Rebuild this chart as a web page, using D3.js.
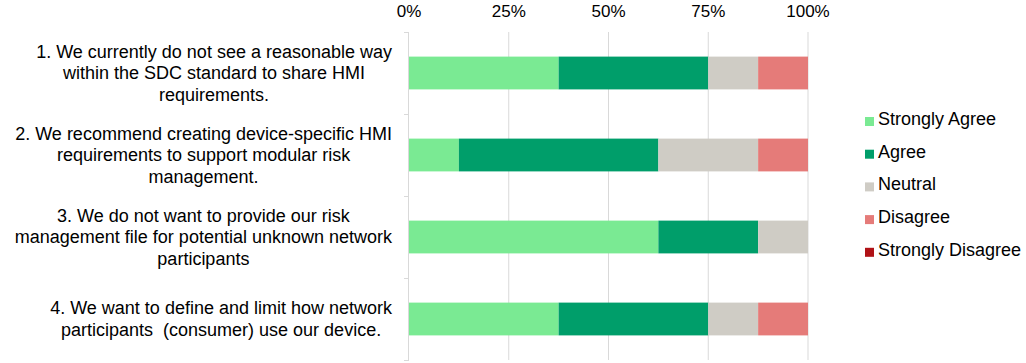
<!DOCTYPE html>
<html>
<head>
<meta charset="utf-8">
<script src="https://cdn.jsdelivr.net/npm/d3@7"></script>
<style>
  body { margin: 0; background: #fff; }
  svg { display: block; font-family: "Liberation Sans", Arial, sans-serif; }
</style>
</head>
<body>
<svg id="chart" width="1026" height="363"></svg>
<script>
const questions = [
  ["1. We currently do not see a reasonable way", "within the SDC standard to share HMI", "requirements."],
  ["2. We recommend creating device-specific HMI", "requirements to support modular risk", "management."],
  ["3. We do not want to provide our risk", "management file for potential unknown network", "participants"],
  ["4. We want to define and limit how network", "participants  (consumer) use our device."]
];
const answers = ["Strongly Agree", "Agree", "Neutral", "Disagree", "Strongly Disagree"];
const colors = ["#7aea93", "#009e6a", "#cfccc5", "#e57b79", "#b01116"];
const strongAgree = [37.5, 12.5, 62.5, 37.5];
const agree = [37.5, 50, 25, 37.5];
const neutral = [12.5, 25, 12.5, 12.5];
const disagree = [12.5, 12.5, 0, 12.5];
const strongDisagree = [0, 0, 0, 0];
const xTicks = [0, 25, 50, 75, 100];

const series = [strongAgree, agree, neutral, disagree, strongDisagree];
const rows = questions.map((q, i) => {
  const r = { id: i };
  answers.forEach((a, j) => r[a] = series[j][i]);
  return r;
});

const svg = d3.select("#chart");
const x = d3.scaleLinear().domain([0, 100]).range([409, 808]);
const y = d3.scaleBand().domain(d3.range(questions.length)).range([32, 360]).paddingInner(0.6).paddingOuter(0.3);
const band = d3.scaleBand().domain(d3.range(questions.length)).range([32, 360]);
const color = d3.scaleOrdinal().domain(answers).range(colors);

// gridlines
svg.append("g")
  .selectAll("line")
  .data(xTicks.slice(1))
  .join("line")
  .attr("x1", d => x(d)).attr("x2", d => x(d))
  .attr("y1", 32).attr("y2", 360)
  .attr("stroke", "#d9d9d9").attr("stroke-width", 1);

// top tick labels
svg.append("g")
  .selectAll("text")
  .data(xTicks)
  .join("text")
  .attr("x", d => x(d))
  .attr("y", 17)
  .attr("text-anchor", "middle")
  .attr("font-size", 17)
  .attr("fill", "#000")
  .text(d => d + "%");

// bars
const stacked = d3.stack().keys(answers)(rows);
svg.append("g")
  .selectAll("g")
  .data(stacked)
  .join("g")
  .attr("fill", d => color(d.key))
  .selectAll("rect")
  .data(d => d)
  .join("rect")
  .attr("x", d => x(d[0]))
  .attr("width", d => x(d[1]) - x(d[0]))
  .attr("y", d => y(d.data.id))
  .attr("height", y.bandwidth());

// left axis
svg.append("line")
  .attr("x1", 408.5).attr("x2", 408.5).attr("y1", 32).attr("y2", 360)
  .attr("stroke", "#d9d9d9");
svg.append("g")
  .selectAll("line")
  .data(d3.range(questions.length + 1))
  .join("line")
  .attr("x1", 404).attr("x2", 409)
  .attr("y1", d => 32 + d * band.step() + 0.5)
  .attr("y2", d => 32 + d * band.step() + 0.5)
  .attr("stroke", "#d9d9d9");

// category labels: centered lines in a right-aligned block
const lineH = 21.5;
questions.forEach((lines, i) => {
  const g = svg.append("g");
  const cy = band(i) + band.bandwidth() / 2;
  const texts = g.selectAll("text")
    .data(lines)
    .join("text")
    .attr("y", (d, k) => cy + (k - (lines.length - 1) / 2) * lineH + 6)
    .attr("text-anchor", "middle")
    .attr("font-size", 18)
    .attr("fill", "#000")
    .style("white-space", "pre")
    .text(d => d);
  const maxW = d3.max(texts.nodes(), n => n.getComputedTextLength());
  texts.attr("x", 392 - maxW / 2);
});

// legend
const legend = svg.append("g")
  .selectAll("g")
  .data(answers)
  .join("g")
  .attr("transform", (d, i) => `translate(865, ${119 + i * 32.7})`);
legend.append("rect")
  .attr("x", 0).attr("y", -2).attr("width", 9).attr("height", 9)
  .attr("fill", d => color(d));
legend.append("text")
  .attr("x", 13).attr("y", 6)
  .attr("font-size", 18)
  .attr("fill", "#000")
  .text(d => d);
</script>
</body>
</html>
